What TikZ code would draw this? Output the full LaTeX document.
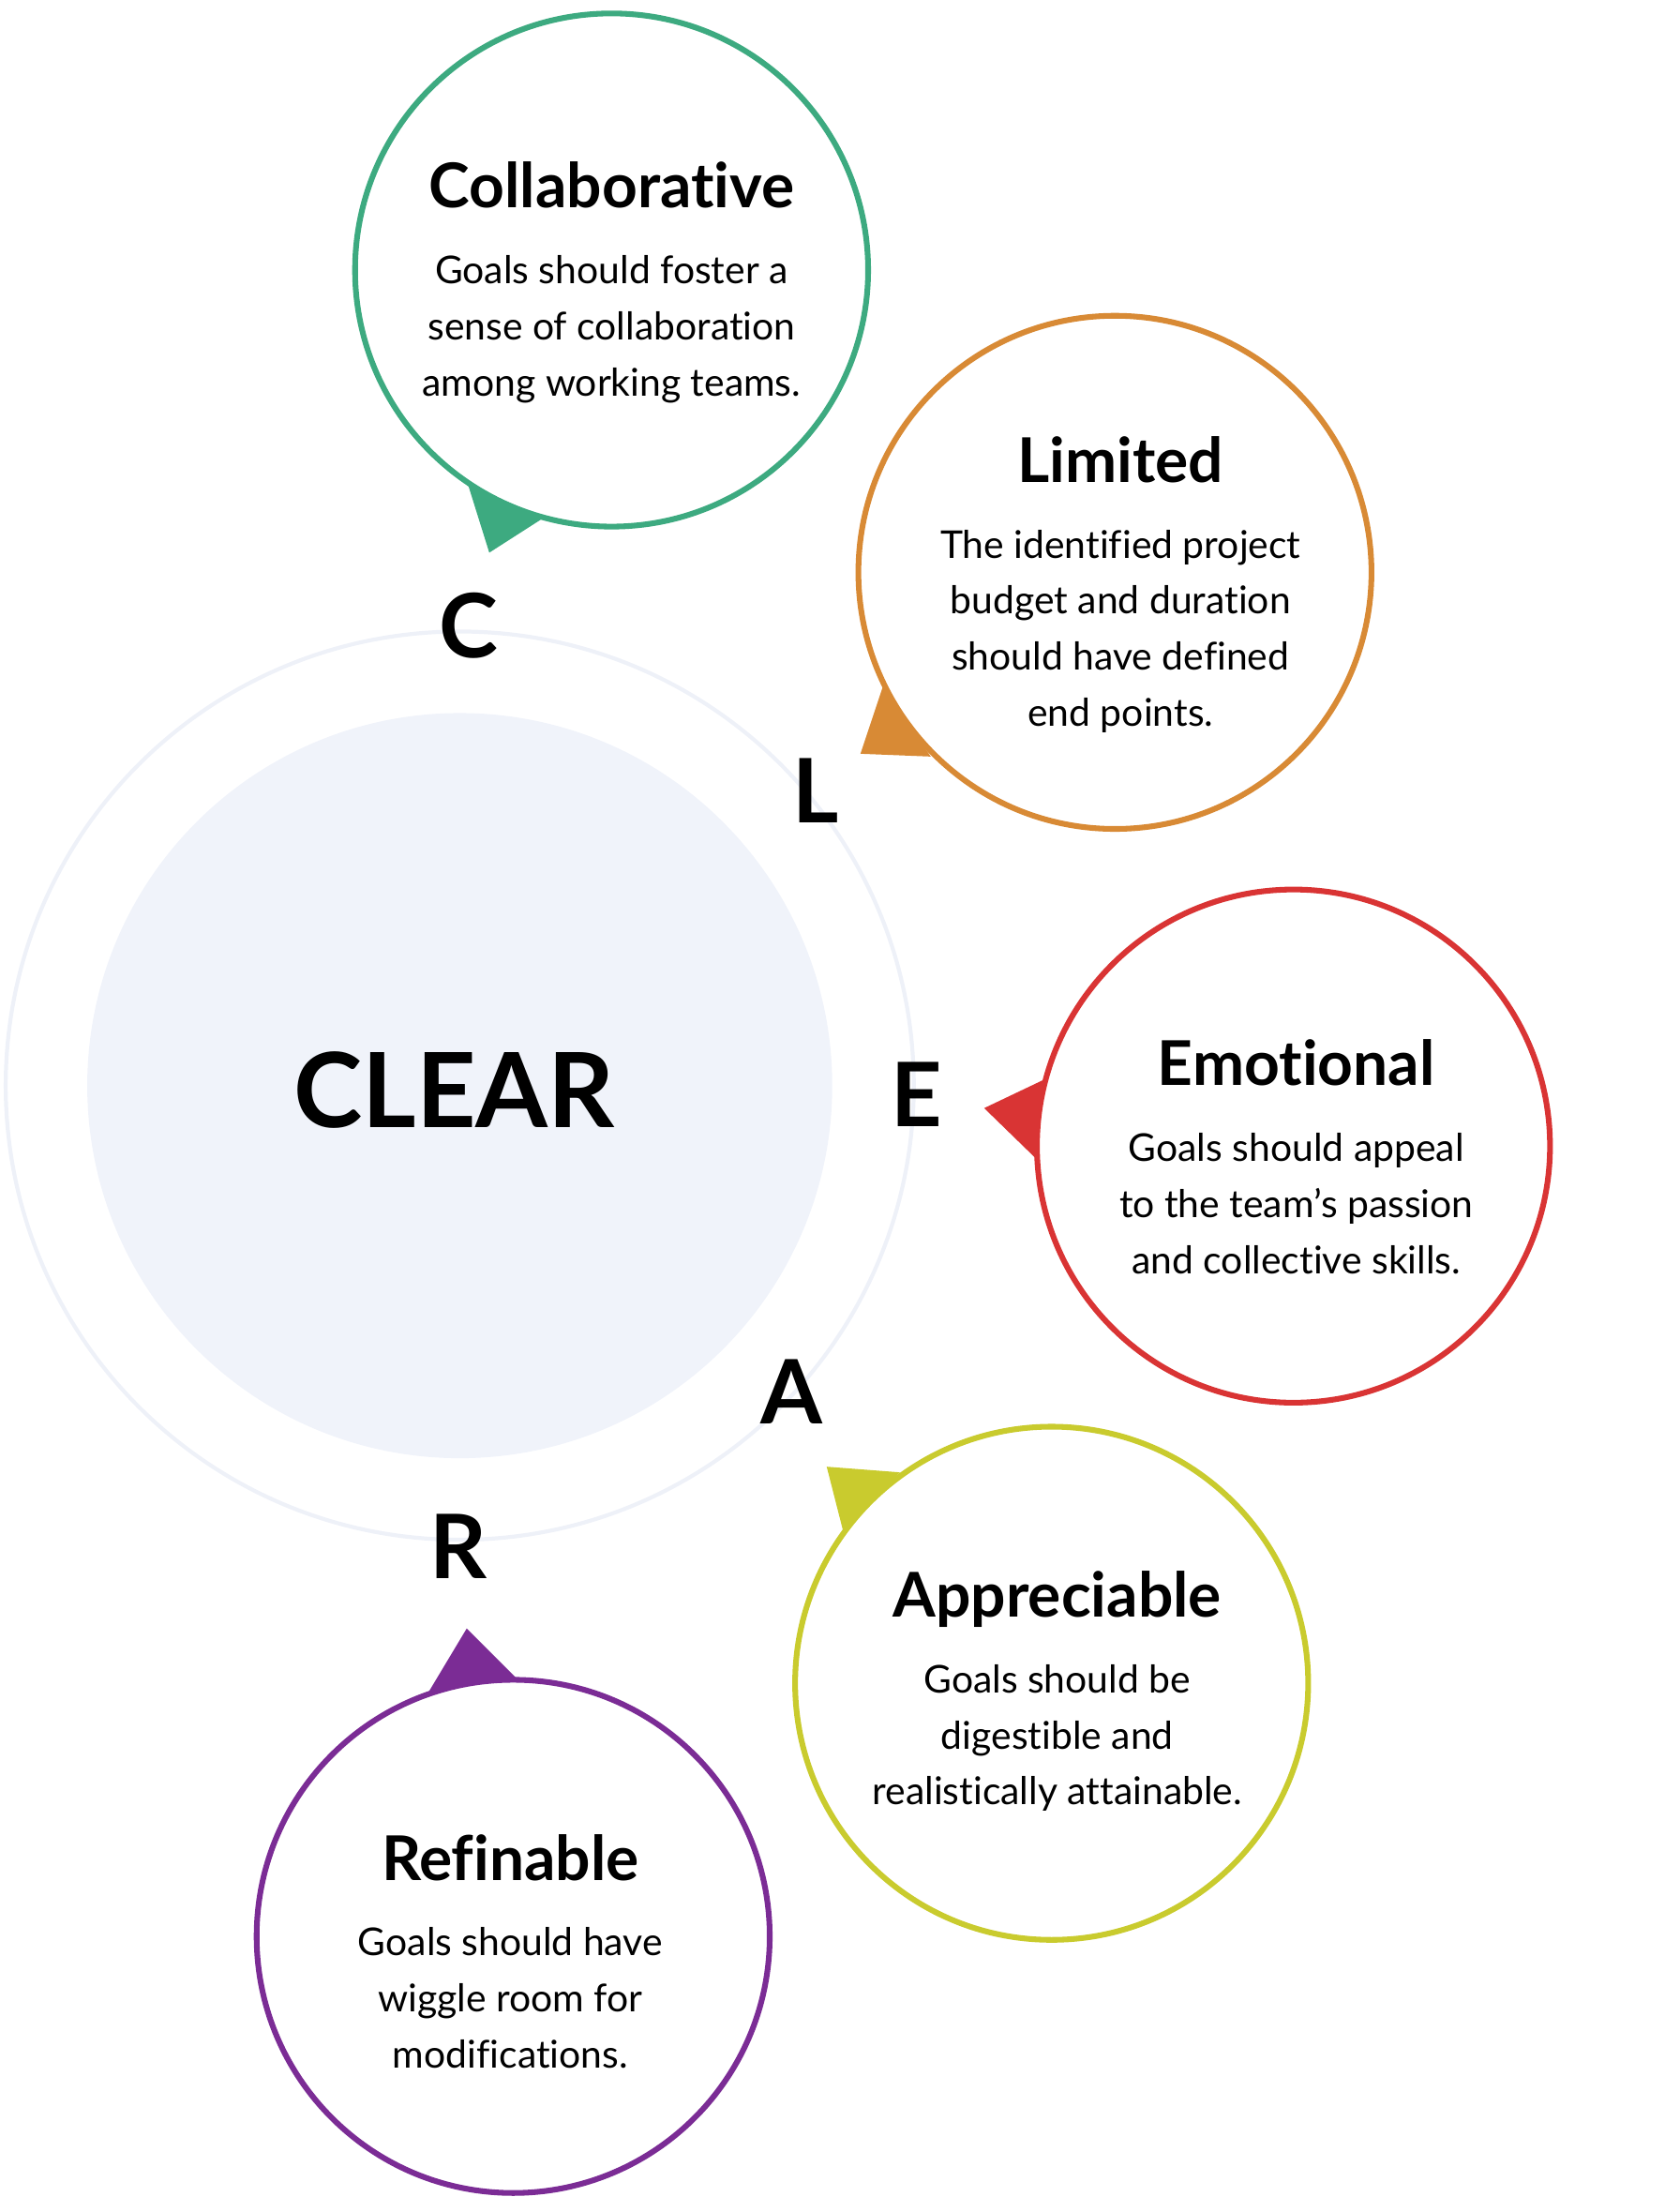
\documentclass[tikz,border=0pt]{standalone}
\usepackage{fontspec}
\setmainfont{Lato}[Ligatures={NoCommon}]
\usetikzlibrary{positioning}
\definecolor{ringc}{HTML}{EEF1F8}
\definecolor{corec}{HTML}{F0F3FA}
\definecolor{colc}{HTML}{3DAA80}
\definecolor{limc}{HTML}{D88A35}
\definecolor{emoc}{HTML}{D93434}
\definecolor{appc}{HTML}{C9CB2E}
\definecolor{refc}{HTML}{7B2C95}
\tikzset{
bubble/.style={draw=#1,circle,line width=2.3pt,minimum size=7.3cm,inner sep=0pt},
my title/.style={font=\fontsize{25}{28}\selectfont\bfseries,anchor=base},
my body/.style={font=\fontsize{15.5}{22.7}\selectfont,align=center,anchor=north},
my letter/.style={font=\fontsize{36}{40}\selectfont\bfseries},
}
\begin{document}
\begin{tikzpicture}[x=0.02cm,y=-0.02cm]
\useasboundingbox (0,0) rectangle (1184,1573);
% core
\node[circle,draw=ringc,line width=1.6pt,minimum size=12.92cm] (ring) at (327,772) {};
\node[circle,fill=corec,minimum size=10.6cm] (core) at (327,772) {};
\node[font=\fontsize{42}{46}\selectfont\bfseries] (clear) at (323,775) {CLEAR};
% letters
\node[my letter] (lc) at (333,445) {C};
\node[my letter] (ll) at (580,562) {L};
\node[my letter] (le) at (652,778) {E};
\node[my letter] (la) at (563,990) {A};
\node[my letter] (lr) at (326,1100) {R};
% bubbles
\node[bubble=colc] (col) at (435,192) {};
\node[bubble=limc] (lim) at (793,407) {};
\node[bubble=emoc] (emo) at (920,815) {};
\node[bubble=appc] (app) at (748,1197) {};
\node[bubble=refc] (ref) at (365,1377) {};
% pointers
\fill[colc] (333,345) -- (387,368) -- (348,393) -- cycle;
\fill[limc] (628,488) -- (662,538) -- (612,536) -- cycle;
\fill[emoc] (742,768) -- (700,788) -- (737,824) -- cycle;
\fill[appc] (588,1043) -- (640,1047) -- (600,1090) -- cycle;
\fill[refc] (332,1158) -- (367,1193) -- (305,1203) -- cycle;
% texts
\node[my title] (colt) at (435,148) {Collaborative};
\node[my body,below=0.55cm of colt.base] (colb) {Goals should foster a\\sense of collaboration\\among working teams.};
\node[my title] (limt) at (797,343) {Limited};
\node[my body,below=0.55cm of limt.base] (limb) {The identified project\\budget and duration\\should have defined\\end points.};
\node[my title] (emot) at (922,772) {Emotional};
\node[my body,below=0.55cm of emot.base] (emob) {Goals should appeal\\to the team’s passion\\and collective skills.};
\node[my title] (appt) at (752,1150) {Appreciable};
\node[my body,below=0.55cm of appt.base] (appb) {Goals should be\\digestible and\\realistically attainable.};
\node[my title] (reft) at (363,1337) {Refinable};
\node[my body,below=0.55cm of reft.base] (refb) {Goals should have\\wiggle room for\\modifications.};
\end{tikzpicture}
\end{document}
